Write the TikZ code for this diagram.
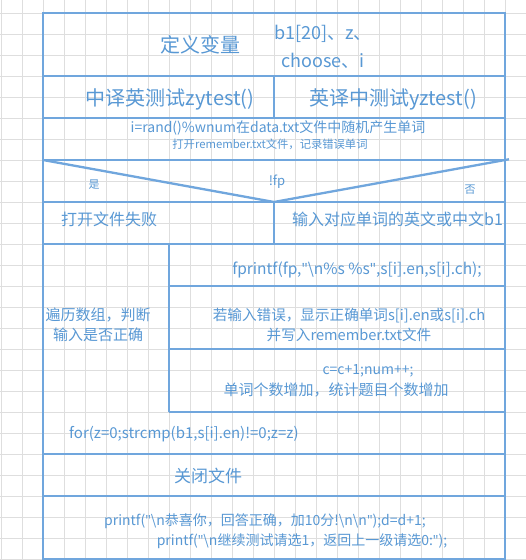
\documentclass[tikz,border=0pt]{standalone}
\usepackage{fontspec}
\setmainfont{Noto Sans CJK SC}
\newfontfamily\latq{Open Sans}
\newcommand\qq{{\latq\symbol{34}}}
\definecolor{ln}{RGB}{112,166,221}
\definecolor{tx}{RGB}{88,152,212}
\definecolor{gridc}{RGB}{222,222,222}
\begin{document}
\begin{tikzpicture}[x=1pt,y=-1pt,
  box/.style={draw=ln,line width=2.3pt},
  t/.style={text=tx,inner sep=0pt,align=center},
  fA/.style={t,font=\fontsize{20}{24}\selectfont},
  fB/.style={t,font=\fontsize{18}{27.5}\selectfont},
  fC/.style={t,font=\fontsize{16}{20}\selectfont},
  fD/.style={t,font=\fontsize{15}{19.5}\selectfont},
  fDl/.style={t,font=\fontsize{15.5}{19.5}\selectfont},
  fDs/.style={t,font=\fontsize{14.6}{19.5}\selectfont},
  fE/.style={t,font=\fontsize{14}{18}\selectfont},
  fF/.style={t,font=\fontsize{11}{14}\selectfont},
  fFb/.style={t,font=\fontsize{11.3}{14}\selectfont},
  fG/.style={t,font=\fontsize{13}{16}\selectfont},
  fH/.style={t,font=\fontsize{17}{20}\selectfont}]
\useasboundingbox (0,0) rectangle (526,560);
\fill[white] (0,0) rectangle (526,560);
% background grid
\foreach \k in {0,...,25} \draw[gridc,line width=0.8pt] ({1+21*\k},0) -- ({1+21*\k},560);
\foreach \k in {0,...,26} \draw[gridc,line width=0.8pt] (0,{13+21*\k}) -- (526,{13+21*\k});
% frame
\draw[box] (43,13) rectangle (505,559);
\foreach \yy in {76,118,160,202,244,454,496} \draw[box] (43,\yy) -- (505,\yy);
\draw[box] (274,76) -- (274,118);
\draw[box] (274,202) -- (274,244);
\draw[box] (43,160) -- (274,202) -- (509,159.3);
\draw[box] (169,244) -- (169,412);
\foreach \yy in {286,349,412} \draw[box] (169,\yy) -- (505,\yy);
% texts
\node[fA] (defvar) at (200,45) {定义变量};
\node[fB] (vars) at (323,47) {b1[20]、z、\\choose、i};
\node[fA] (zy) at (170,99) {中译英测试zytest()};
\node[fA] (yz) at (393,99) {英译中测试yztest()};
\node[fE] (rand) at (278,127.5) {i=rand()\%wnum在data.txt文件中随机产生单词};
\node[fFb] (openf) at (270,144) {打开remember.txt文件，记录错误单词};
\node[fF] (yes) at (94,185) {是};
\node[fG] (fp) at (277,182) {!fp};
\node[fF] (no) at (470,190) {否};
\node[fC] (fail) at (109,219) {打开文件失败};
\node[fC,anchor=west] (input) at (292,219) {输入对应单词的英文或中文b1};
\node[fDl] (fprintf) at (357,270) {fprintf(fp,\qq\textbackslash n\%s \%s\qq,s[i].en,s[i].ch);};
\node[fD] (loop) at (98,325) {遍历数组，判断\\输入是否正确};
\node[fDs] (wrong) at (349,325) {若输入错误，显示正确单词s[i].en或s[i].ch\\并写入remember.txt文件};
\node[fE] (cc) at (368,371) {c=c+1;num++;};
\node[fD] (cnt) at (336,390) {单词个数增加，统计题目个数增加};
\node[fD,anchor=west] (for) at (69,434) {for(z=0;strcmp(b1,s[i].en)!=0;z=z)};
\node[fH] (close) at (208,476) {关闭文件};
\node[fE] (pr1) at (265,521) {printf(\qq\textbackslash n恭喜你，回答正确，加10分!\textbackslash n\textbackslash n\qq);d=d+1;};
\node[fE] (pr2) at (302,541) {printf(\qq\textbackslash n继续测试请选1，返回上一级请选0:\qq);};
\end{tikzpicture}
\end{document}
